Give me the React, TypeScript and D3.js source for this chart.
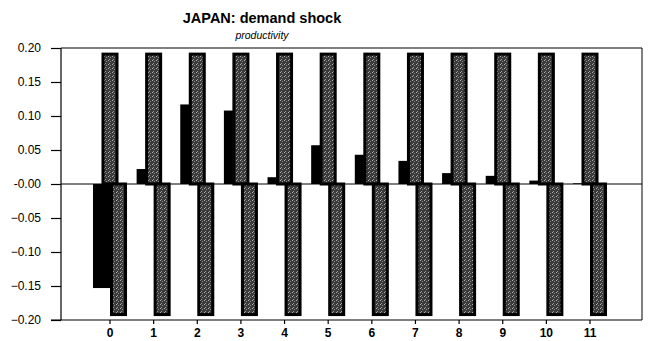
import { useEffect, useRef } from "react";
import { axisLeft, format, ScaleLinear, scaleLinear, scalePoint, select } from "d3";

// periods after the shock
const periods = [0, 1, 2, 3, 4, 5, 6, 7, 8, 9, 10, 11];
// productivity response to the demand shock
const response = [-0.153, 0.022, 0.117, 0.108, 0.01, 0.057, 0.043, 0.034, 0.016, 0.012, 0.005, 0.001];
// upper and lower bands
const upperBand = [0.191, 0.191, 0.191, 0.191, 0.191, 0.191, 0.191, 0.191, 0.191, 0.191, 0.191, 0.191];
const lowerBand = [-0.192, -0.192, -0.192, -0.192, -0.192, -0.192, -0.192, -0.192, -0.192, -0.192, -0.192, -0.192];
const seriesNames = ["response", "upper", "lower"];
const yTicks = [-0.2, -0.15, -0.1, -0.05, 0, 0.05, 0.1, 0.15, 0.2];

const WIDTH = 648;
const HEIGHT = 341;
const plotLeft = 61;
const plotRight = 642;
const plotTop = 48;
const plotBottom = 320;
const FONT = "Arial, 'Liberation Sans', sans-serif";

interface AxisLeftProps {
  scale: ScaleLinear<number, number, never>;
}

function AxisLeft({ scale }: AxisLeftProps) {
  const ref = useRef<SVGGElement>(null);

  useEffect(() => {
    if (ref.current) {
      const fmt = format(".2f");
      const g = select(ref.current);
      g.call(
        axisLeft(scale)
          .tickValues(yTicks)
          .tickSize(10)
          .tickPadding(10)
          .tickFormat((d) => (+d === 0 ? "-0.00" : fmt(+d)))
      );
      g.select(".domain").remove();
      g.selectAll("line").attr("stroke", "#000").attr("stroke-width", 1.2);
      g.selectAll("text")
        .attr("fill", "#000")
        .style("font-family", FONT)
        .style("font-size", "12px");
    }
  }, [scale]);

  return <g ref={ref} transform={`translate(${plotLeft}, 0)`} />;
}

export default function App() {
  const y = scaleLinear().domain([-0.2, 0.2]).range([plotBottom, plotTop]);
  const x = scaleLinear().domain([0, 11]).range([110, 590]);
  const step = x(1) - x(0);
  const barWidth = step * 0.39;
  const offset = scalePoint<string>()
    .domain(seriesNames)
    .range([-barWidth / 2, barWidth / 2]);

  const barRect = (i: number, v: number, series: string) => {
    const cx = x(periods[i]) + (offset(series) ?? 0);
    return {
      x: cx - barWidth / 2,
      y: Math.min(y(v), y(0)),
      h: Math.abs(y(v) - y(0)),
    };
  };

  return (
    <svg width={WIDTH} height={HEIGHT} style={{ position: "absolute", left: 0, top: 0, background: "#fff" }}>
      <defs>
        {/* speckled grey fill of the band bars */}
        <pattern id="speckle" width={4} height={4} patternUnits="userSpaceOnUse">
          <rect width={4} height={4} fill="#3a3a3a" />
          <rect x={0} y={0} width={1} height={1} fill="#b0b0b0" />
          <rect x={2} y={1} width={1} height={1} fill="#8c8c8c" />
          <rect x={1} y={3} width={1} height={1} fill="#9a9a9a" />
        </pattern>
      </defs>

      <text x={262} y={23} textAnchor="middle" fontFamily={FONT} fontWeight="bold" fontSize={14.5}>
        JAPAN: demand shock
      </text>
      <text x={262} y={39} textAnchor="middle" fontFamily={FONT} fontStyle="italic" fontSize={10.5}>
        productivity
      </text>

      {/* frame */}
      <line x1={plotLeft} x2={plotRight} y1={plotTop} y2={plotTop} stroke="#000" strokeWidth={1.2} />
      <line x1={plotRight} x2={plotRight} y1={plotTop} y2={plotBottom} stroke="#000" strokeWidth={1} />
      <line x1={plotLeft} x2={plotLeft} y1={plotTop} y2={plotBottom} stroke="#000" strokeWidth={1.2} />
      <line x1={plotLeft - 10} x2={plotRight} y1={plotBottom} y2={plotBottom} stroke="#000" strokeWidth={1.2} />

      <AxisLeft scale={y} />

      {periods.map((p, i) => {
        const r = barRect(i, response[i], "response");
        const u = barRect(i, upperBand[i], "upper");
        const l = barRect(i, lowerBand[i], "lower");
        return (
          <g key={`period-${p}`}>
            <rect x={r.x} y={r.y} width={barWidth} height={r.h} fill="#000" />
            <rect x={u.x + 1.5} y={u.y} width={barWidth - 3} height={u.h} fill="url(#speckle)" stroke="#000" strokeWidth={3} />
            <rect x={l.x + 1.5} y={l.y} width={barWidth - 3} height={l.h} fill="url(#speckle)" stroke="#000" strokeWidth={3} />
          </g>
        );
      })}

      <line x1={plotLeft} x2={plotRight} y1={y(0)} y2={y(0)} stroke="#000" strokeWidth={1.2} />

      {periods.map((p) => (
        <g key={`tick-${p}`} transform={`translate(${x(p)}, ${plotBottom})`}>
          <line y1={0} y2={4} stroke="#000" strokeWidth={1.2} />
          <text y={17} textAnchor="middle" fontFamily={FONT} fontWeight="bold" fontSize={12}>
            {p}
          </text>
        </g>
      ))}
    </svg>
  );
}
